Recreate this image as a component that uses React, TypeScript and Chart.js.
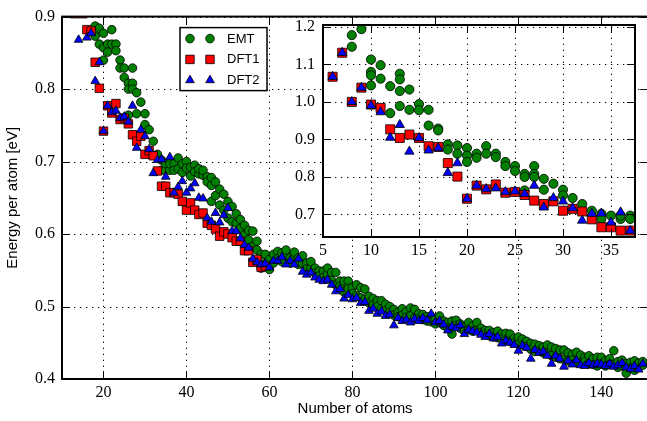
import React, { useEffect, useRef } from "react";
import { Chart, registerables } from "chart.js";
import { drawPoint } from "chart.js/helpers";

Chart.register(...registerables);

// ---------------- data ----------------
const seriesNames = ["EMT", "DFT1", "DFT2"];

const emtAtoms = [
  8, 8, 9, 10, 10, 10, 10, 11, 11, 12, 12,
  13, 13, 13, 13, 14, 14, 15, 15, 16, 16,
  17, 17, 18, 18, 19, 19, 20, 20, 20, 21, 21,
  22, 22, 23, 23, 24, 24, 25, 25, 26, 26, 26,
  27, 27, 27, 28, 28, 29, 30, 30, 31, 32, 33,
  34, 34, 35, 36, 36, 37, 37,
  38, 38, 39, 39, 40, 40, 41, 41, 42, 42,
  43, 43, 44, 44, 45, 45, 46, 46, 46,
  47, 47, 48, 48, 49, 49, 50, 50, 51, 51,
  52, 52, 53, 53, 54, 54, 55, 55, 56, 56,
  57, 57, 58, 58, 59, 59, 60, 60, 61, 61,
  62, 62, 63, 63, 64, 64, 65, 65, 66, 66,
  67, 67, 68, 68, 69, 69, 70, 70, 71, 71,
  72, 72, 73, 73, 74, 74, 75, 75, 76, 76,
  77, 77, 78, 78, 79, 79, 80, 80, 81, 81,
  82, 82, 83, 83, 84, 84, 85, 85, 86, 86,
  87, 87, 88, 88, 89, 89, 90, 90, 91, 91,
  92, 92, 93, 93, 94, 94, 95, 95, 96, 96,
  97, 97, 98, 98, 99, 99, 100, 100, 101, 101,
  102, 102, 103, 103, 104, 104, 105, 105, 106, 106,
  107, 107, 108, 108, 109, 109, 110, 110, 111, 111,
  112, 112, 113, 113, 114, 114, 115, 115, 116, 116,
  117, 117, 118, 118, 119, 119, 120, 120, 121, 121,
  122, 122, 123, 123, 124, 124, 125, 125, 126, 126,
  127, 127, 128, 128, 129, 129, 130, 130, 131, 131,
  132, 132, 133, 133, 134, 134, 135, 135, 136, 136,
  137, 137, 138, 138, 139, 139, 140, 140, 141, 141,
  142, 142, 143, 143, 144, 144, 145, 145, 146, 146,
  147, 147, 148, 148, 149, 149, 150, 150,
];
const emtEnergy = [
  1.147, 1.178, 1.194, 1.113, 1.080, 1.071, 1.044, 1.098, 1.062, 1.042, 0.970,
  1.075, 1.060, 1.029, 0.989, 1.033, 0.979, 0.994, 0.978, 0.979, 0.937,
  0.929, 0.924, 0.887, 0.873, 0.884, 0.862, 0.877, 0.857, 0.840, 0.862, 0.851,
  0.882, 0.862, 0.862, 0.853, 0.840, 0.829, 0.829, 0.816, 0.808, 0.800, 0.764,
  0.829, 0.808, 0.800, 0.795, 0.766, 0.782, 0.766, 0.751, 0.744, 0.728, 0.710,
  0.702, 0.688, 0.697, 0.688, 0.697, 0.697, 0.688,
  0.705, 0.690, 0.697, 0.685, 0.700, 0.691, 0.692, 0.680, 0.695, 0.686,
  0.683, 0.690, 0.681, 0.688, 0.679, 0.672, 0.667, 0.678, 0.645,
  0.653, 0.672, 0.640, 0.662, 0.633, 0.655, 0.622, 0.645, 0.617, 0.638,
  0.615, 0.628, 0.608, 0.620, 0.599, 0.612, 0.592, 0.605, 0.583, 0.604,
  0.578, 0.590, 0.553, 0.572, 0.572, 0.560, 0.551, 0.565, 0.560, 0.572,
  0.576, 0.566, 0.574, 0.562, 0.572, 0.578, 0.567, 0.560, 0.567, 0.575,
  0.567, 0.558, 0.560, 0.570, 0.560, 0.552, 0.553, 0.562, 0.553, 0.546,
  0.549, 0.542, 0.549, 0.540, 0.545, 0.553, 0.547, 0.536, 0.547, 0.530,
  0.535, 0.528, 0.535, 0.520, 0.535, 0.525, 0.526, 0.518, 0.530, 0.515,
  0.526, 0.512, 0.524, 0.510, 0.514, 0.505, 0.511, 0.502, 0.508, 0.500,
  0.508, 0.497, 0.503, 0.494, 0.500, 0.492, 0.496, 0.488, 0.492, 0.486,
  0.497, 0.488, 0.493, 0.485, 0.498, 0.487, 0.496, 0.484, 0.490, 0.483,
  0.489, 0.482, 0.486, 0.480, 0.485, 0.479, 0.484, 0.476, 0.487, 0.478,
  0.480, 0.474, 0.478, 0.470, 0.462, 0.480, 0.481, 0.474, 0.476, 0.470,
  0.472, 0.466, 0.478, 0.468, 0.473, 0.466, 0.478, 0.467, 0.470, 0.464,
  0.467, 0.462, 0.467, 0.460, 0.464, 0.458, 0.466, 0.457, 0.462, 0.455,
  0.463, 0.454, 0.462, 0.452, 0.456, 0.450, 0.458, 0.448, 0.455, 0.447,
  0.452, 0.445, 0.449, 0.441, 0.448, 0.438, 0.446, 0.439, 0.444, 0.436,
  0.447, 0.435, 0.444, 0.432, 0.442, 0.430, 0.440, 0.428, 0.440, 0.427,
  0.436, 0.425, 0.434, 0.426, 0.437, 0.423, 0.433, 0.422, 0.430, 0.424,
  0.432, 0.421, 0.428, 0.420, 0.430, 0.418, 0.430, 0.421, 0.425, 0.418,
  0.428, 0.420, 0.439, 0.420, 0.424, 0.416, 0.426, 0.418, 0.408, 0.421,
  0.423, 0.415, 0.425, 0.412, 0.417, 0.422, 0.419, 0.424,
];

const dft1Atoms = [
  6, 7, 8, 9, 10, 11, 12, 13, 14, 15,
  16, 17, 18, 19, 20, 21, 22, 23, 24, 25,
  26, 27, 28, 29, 30, 31, 32, 33, 34, 35,
  36, 37, 38, 39, 40, 41, 42, 43, 44, 45,
  46, 47, 48, 49, 50, 51, 52, 53, 54, 55,
  56, 57, 58, 59,
];
const dft1Energy = [
  1.067, 1.131, 1.000, 1.038, 0.993, 0.984, 0.927, 0.904, 0.913, 0.904,
  0.882, 0.880, 0.837, 0.801, 0.742, 0.777, 0.767, 0.780, 0.758, 0.760,
  0.752, 0.737, 0.728, 0.735, 0.710, 0.715, 0.708, 0.687, 0.666, 0.666,
  0.657, 0.657, 0.655, 0.645, 0.633, 0.643, 0.633, 0.627, 0.629, 0.615,
  0.612, 0.607, 0.597, 0.603, 0.600, 0.595, 0.590, 0.590, 0.577, 0.577,
  0.561, 0.565, 0.554, 0.556,
];

const dft2Atoms = [
  6, 7, 8, 9, 10, 11, 12, 13, 14, 15,
  16, 17, 18, 19, 20, 21, 22, 23, 24, 25,
  26, 27, 28, 29, 30, 31, 32, 33, 34, 35,
  36, 37, 38, 39, 40, 41, 42, 43, 44, 45,
  46, 47, 48, 49, 50, 51, 52, 53, 54, 55,
  56, 57, 58, 59, 60, 61, 62, 63, 64, 65,
  66, 67, 68, 69, 70, 71, 72, 73, 74, 75,
  76, 77, 78, 79, 80, 81, 82, 83, 84, 85,
  86, 87, 88, 89, 90, 91, 92, 93, 94, 95,
  96, 97, 98, 99, 100, 101, 102, 103, 104, 105,
  106, 107, 108, 109, 110, 111, 112, 113, 114, 115,
  116, 117, 118, 119, 120, 121, 122, 123, 124, 125,
  126, 127, 128, 129, 130, 131, 132, 133, 134, 135,
  136, 137, 138, 139, 140, 141, 142, 143, 144, 145,
  146, 147, 148, 149, 150,
];
const dft2Energy = [
  1.067, 1.131, 1.000, 1.038, 0.990, 0.973, 0.905, 0.939, 0.868, 0.904,
  0.871, 0.877, 0.811, 0.837, 0.742, 0.777, 0.768, 0.770, 0.760, 0.762,
  0.755, 0.777, 0.719, 0.744, 0.735, 0.717, 0.684, 0.702, 0.703, 0.679,
  0.706, 0.657, 0.665, 0.673, 0.657, 0.663, 0.670, 0.650, 0.649, 0.622,
  0.617, 0.629, 0.616, 0.626, 0.636, 0.604, 0.604, 0.594, 0.585, 0.581,
  0.566, 0.561, 0.558, 0.559, 0.554, 0.563, 0.563, 0.568, 0.558, 0.563,
  0.558, 0.566, 0.548, 0.544, 0.547, 0.540, 0.537, 0.535, 0.537, 0.530,
  0.521, 0.524, 0.511, 0.516, 0.510, 0.512, 0.505, 0.506, 0.494, 0.497,
  0.490, 0.493, 0.487, 0.489, 0.474, 0.484, 0.480, 0.482, 0.478, 0.483,
  0.480, 0.484, 0.481, 0.490, 0.478, 0.480, 0.475, 0.467, 0.472, 0.470,
  0.474, 0.462, 0.468, 0.466, 0.464, 0.461, 0.458, 0.462, 0.456, 0.458,
  0.449, 0.453, 0.450, 0.447, 0.439, 0.446, 0.443, 0.428, 0.440, 0.436,
  0.438, 0.432, 0.421, 0.432, 0.428, 0.417, 0.425, 0.420, 0.426, 0.419,
  0.418, 0.422, 0.419, 0.421, 0.420, 0.418, 0.421, 0.417, 0.419, 0.422,
  0.416, 0.414, 0.418, 0.413, 0.421,
];

const mainXTicks = [20, 40, 60, 80, 100, 120, 140];
const mainYTicks = [0.4, 0.5, 0.6, 0.7, 0.8, 0.9];
const insetXTicks = [5, 10, 15, 20, 25, 30, 35];
const insetYTicks = [0.7, 0.8, 0.9, 1.0, 1.1, 1.2];

const xTitle = "Number of atoms";
const yTitle = "Energy per atom [eV]";

// ---------------- styling ----------------
const SANS = "'Liberation Sans', Arial, sans-serif";
const SERIF = "'Liberation Serif', 'DejaVu Serif', serif";
const COLORS = ["#008000", "#ff0000", "#0000ff"];
const STYLES = ["circle", "rect", "triangle"];
const GRID_DASH = [1.3, 4.7];

function pts(xs: number[], ys: number[]) {
  return xs.map((x, i) => ({ x, y: ys[i] }));
}

function buildDatasets(radii: number[]) {
  const sources = [
    pts(emtAtoms, emtEnergy),
    pts(dft1Atoms, dft1Energy),
    pts(dft2Atoms, dft2Energy),
  ];
  return sources.map((data, i) => ({
    label: seriesNames[i],
    data,
    pointStyle: STYLES[i],
    pointRadius: radii[i],
    backgroundColor: COLORS[i],
    borderColor: "#000",
    borderWidth: 0.8,
    order: 3 - i,
    clip: 0,
  }));
}

function makeFrame(tickLen: number, spineWidth: number, whiteBg: boolean) {
  return {
    id: "frame",
    beforeDraw(chart: any) {
      if (!whiteBg) return;
      const { ctx, chartArea: a } = chart;
      ctx.save();
      ctx.fillStyle = "#fff";
      ctx.fillRect(a.left, a.top, a.right - a.left, a.bottom - a.top);
      ctx.restore();
    },
    beforeDatasetsDraw(chart: any) {
      const { ctx, chartArea: a, scales } = chart;
      ctx.save();
      ctx.beginPath();
      ctx.rect(a.left, a.top, a.right - a.left, a.bottom - a.top);
      ctx.clip();
      ctx.strokeStyle = "#000";
      ctx.lineWidth = 1;
      ctx.setLineDash(GRID_DASH);
      for (const t of scales.x.ticks) {
        const p = Math.round(scales.x.getPixelForValue(t.value)) + 0.5;
        ctx.beginPath();
        ctx.moveTo(p, a.bottom);
        ctx.lineTo(p, a.top);
        ctx.stroke();
      }
      for (const t of scales.y.ticks) {
        const p = Math.round(scales.y.getPixelForValue(t.value)) + 0.5;
        ctx.beginPath();
        ctx.moveTo(a.left, p);
        ctx.lineTo(a.right, p);
        ctx.stroke();
      }
      ctx.restore();
    },
    afterDatasetsDraw(chart: any) {
      const { ctx, chartArea: a, scales } = chart;
      ctx.save();
      ctx.strokeStyle = "#000";
      ctx.lineWidth = 1;
      for (const t of scales.x.ticks) {
        const p = Math.round(scales.x.getPixelForValue(t.value)) + 0.5;
        ctx.beginPath();
        ctx.moveTo(p, a.bottom);
        ctx.lineTo(p, a.bottom - tickLen);
        ctx.moveTo(p, a.top);
        ctx.lineTo(p, a.top + tickLen);
        ctx.stroke();
      }
      for (const t of scales.y.ticks) {
        const p = Math.round(scales.y.getPixelForValue(t.value)) + 0.5;
        ctx.beginPath();
        ctx.moveTo(a.left, p);
        ctx.lineTo(a.left + tickLen, p);
        ctx.moveTo(a.right, p);
        ctx.lineTo(a.right - tickLen, p);
        ctx.stroke();
      }
      ctx.lineWidth = spineWidth;
      ctx.strokeRect(a.left, a.top, a.right - a.left, a.bottom - a.top);
      ctx.restore();
    },
  };
}

const legendPlugin = {
  id: "mplLegend",
  afterDatasetsDraw(chart: any) {
    const { ctx, chartArea: a } = chart;
    const x0 = a.left + 118;
    const y0 = a.top + 11;
    const w = 87;
    const h = 63;
    ctx.save();
    ctx.fillStyle = "#fff";
    ctx.fillRect(x0, y0, w, h);
    ctx.lineWidth = 1.5;
    ctx.strokeStyle = "#000";
    ctx.strokeRect(x0, y0, w, h);
    chart.data.datasets.forEach((ds: any, i: number) => {
      const y = y0 + 11 + i * 20.8;
      for (const mx of [x0 + 10, x0 + 30]) {
        ctx.fillStyle = ds.backgroundColor;
        ctx.strokeStyle = "#000";
        ctx.lineWidth = 0.8;
        drawPoint(ctx, { pointStyle: ds.pointStyle, radius: ds.pointRadius, borderWidth: 0.8, rotation: 0 } as any, mx, y);
      }
      ctx.fillStyle = "#000";
      ctx.font = `13px ${SANS}`;
      ctx.textBaseline = "middle";
      ctx.textAlign = "left";
      ctx.fillText(ds.label, x0 + 47, y + 0.5);
    });
    ctx.restore();
  },
};

const tickFont = { family: SERIF, size: 16 };

function setTicks(values: number[]) {
  return (s: any) => {
    s.ticks = values.map((v) => ({ value: v }));
  };
}

const noGrid = { display: false, drawTicks: false, tickLength: 0 };

export default function App() {
  const mainRef = useRef<HTMLCanvasElement>(null);
  const insetRef = useRef<HTMLCanvasElement>(null);

  useEffect(() => {
    const main = new Chart(mainRef.current as HTMLCanvasElement, {
      type: "scatter",
      data: { datasets: buildDatasets([4.3, 6.0, 5.0]) as any },
      options: {
        animation: false,
        responsive: false,
        devicePixelRatio: 1,
        events: [],
        layout: { padding: { top: 13, right: 5, left: 0, bottom: 0 } },
        plugins: { legend: { display: false }, tooltip: { enabled: false } },
        scales: {
          x: {
            type: "linear",
            min: 10,
            max: 151.3,
            afterBuildTicks: setTicks(mainXTicks),
            afterFit: (s: any) => {
              s.height = 42;
            },
            grid: noGrid,
            border: { display: false },
            ticks: {
              font: tickFont,
              color: "#000",
              padding: 4,
              maxRotation: 0,
              autoSkip: false,
              callback: (v: any) => String(v),
            },
            title: {
              display: true,
              text: xTitle,
              color: "#000",
              font: { family: SANS, size: 15 },
              padding: { top: 0, bottom: 3 },
            },
          },
          y: {
            type: "linear",
            min: 0.4,
            max: 0.9,
            afterBuildTicks: setTicks(mainYTicks),
            afterFit: (s: any) => {
              s.width = 62;
            },
            grid: noGrid,
            border: { display: false },
            ticks: {
              font: tickFont,
              color: "#000",
              padding: 7,
              autoSkip: false,
              callback: (v: any) => Number(v).toFixed(1),
            },
            title: {
              display: true,
              text: yTitle,
              color: "#000",
              font: { family: SANS, size: 15 },
              padding: { top: 4, bottom: 0 },
            },
          },
        },
      } as any,
      plugins: [makeFrame(8, 2, false), legendPlugin],
    });

    const inset = new Chart(insetRef.current as HTMLCanvasElement, {
      type: "scatter",
      data: { datasets: buildDatasets([4.6, 6.4, 5.4]) as any },
      options: {
        animation: false,
        responsive: false,
        devicePixelRatio: 1,
        events: [],
        layout: { padding: { top: 25, right: 12, left: 0, bottom: 0 } },
        plugins: { legend: { display: false }, tooltip: { enabled: false } },
        scales: {
          x: {
            type: "linear",
            min: 5,
            max: 37.5,
            afterBuildTicks: setTicks(insetXTicks),
            afterFit: (s: any) => {
              s.height = 25;
            },
            grid: noGrid,
            border: { display: false },
            ticks: {
              font: tickFont,
              color: "#000",
              padding: 4,
              maxRotation: 0,
              autoSkip: false,
              callback: (v: any) => String(v),
            },
          },
          y: {
            type: "linear",
            min: 0.64,
            max: 1.205,
            afterBuildTicks: setTicks(insetYTicks),
            afterFit: (s: any) => {
              s.width = 63;
            },
            grid: noGrid,
            border: { display: false },
            ticks: {
              font: tickFont,
              color: "#000",
              padding: 8,
              autoSkip: false,
              callback: (v: any) => Number(v).toFixed(1),
            },
          },
        },
      } as any,
      plugins: [makeFrame(8, 2, true)],
    });

    return () => {
      main.destroy();
      inset.destroy();
    };
  }, []);

  return (
    <div
      style={{
        position: "fixed",
        left: 0,
        top: 0,
        width: 647,
        height: 421,
        overflow: "hidden",
        background: "#fff",
      }}
    >
      <canvas
        ref={mainRef}
        width={655}
        height={421}
        style={{ position: "absolute", left: 0, top: 0, width: 655, height: 421 }}
      />
      <canvas
        ref={insetRef}
        width={387}
        height={262}
        style={{ position: "absolute", left: 260, top: 0, width: 387, height: 262 }}
      />
    </div>
  );
}
